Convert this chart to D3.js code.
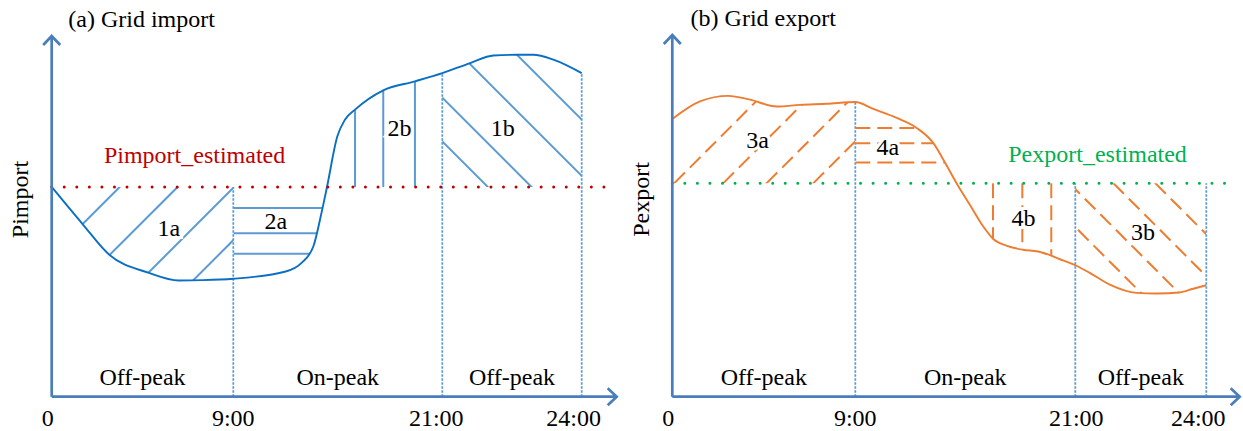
<!DOCTYPE html>
<html>
<head>
<meta charset="utf-8">
<script src="https://cdn.jsdelivr.net/npm/d3@7"></script>
<style>
  html, body { margin: 0; padding: 0; background: #fff; }
  svg { display: block; }
  text { font-family: "Liberation Serif", "Times New Roman", serif; font-size: 24px; fill: #000; }
</style>
</head>
<body>
<svg id="chart" width="1243" height="431"></svg>
<script>
// ---- time axis (hours) ----
const hourTicks = [0, 9, 21, 24];
const hourTickLabels = ["0", "9:00", "21:00", "24:00"];
const periodLabels = ["Off-peak", "On-peak", "Off-peak"];

// ---- (a) grid import profile ----
const importHours = [0, 1.55, 2.84, 4.82, 6.29, 7.5, 9, 12.01, 12.92, 13.6, 14.06, 14.38, 14.97, 15.41,
  15.99, 17.61, 19.43, 21, 21.6, 22.1, 22.6, 22.96, 23.39, 24];
const importValues = [6.08, 4.99, 4.12, 3.59, 3.37, 3.38, 3.42, 3.63, 3.88, 4.36, 5.32, 6.08, 7.54, 8.03,
  8.32, 8.88, 9.14, 9.38, 9.67, 9.89, 9.91, 9.91, 9.77, 9.38];
const importEstimated = 6.08;

// ---- (b) grid export profile ----
const exportHours = [0, 1.36, 2.75, 3.82, 5.14, 6.28, 7.6, 9, 9.98, 11.26, 12.35, 13.26, 13.89, 14.62,
  15.24, 15.97, 16.51, 17.24, 18.15, 18.97, 19.69, 20.33, 21, 21.33, 21.79, 22.4, 22.86, 23.39, 23.7, 24];
const exportValues = [8.05, 8.56, 8.72, 8.61, 8.41, 8.46, 8.49, 8.54, 8.34, 8.08, 7.79, 7.35, 6.79, 6.10,
  5.57, 4.94, 4.58, 4.38, 4.26, 4.21, 4.09, 3.95, 3.81, 3.59, 3.25, 3.01, 2.99, 3.02, 3.13, 3.23];
const exportEstimated = 6.19;

// ---- hatched deviation areas: hatch lines given in data units ----
// rising/falling: hour where the 45° line meets the estimate; horizontal: value; vertical: hour
const importRegions = [
  { name: "1a", from: 0, to: 9, hatch: "rising", at: [3.37, 6.24, 9.05, 12.06], labelAt: [5.8, 4.65] },
  { name: "2a", from: 9, to: 21, hatch: "horizontal", at: [5.47, 4.74, 4.14], labelAt: [11.44, 4.85] },
  { name: "2b", from: 9, to: 21, hatch: "vertical", at: [15.99, 17.61, 19.43], labelAt: [18.54, 7.57] },
  { name: "1b", from: 21, to: 24, hatch: "falling", at: [21.98, 22.92, 24.24, 25.45], labelAt: [22.3, 7.57] }
];
const exportRegions = [
  { name: "3a", from: 0, to: 9, hatch: "rising", at: [0.1, 2.51, 4.64, 6.94], labelAt: [4.19, 7.21] },
  { name: "4a", from: 9, to: 21, hatch: "horizontal", at: [7.79, 7.35, 6.79], labelAt: [10.78, 7.01] },
  { name: "4b", from: 9, to: 21, hatch: "vertical", at: [16.51, 18.11, 19.69], labelAt: [18.18, 4.96] },
  { name: "3b", from: 21, to: 24, hatch: "falling", at: [18.6, 20.67, 21.87, 22.83], labelAt: [22.55, 4.55] }
];

const svg = d3.select("#chart");
const defs = svg.append("defs");

const panels = [
  {
    id: "imp", title: "(a) Grid import", yLabel: "Pimport",
    hours: importHours, values: importValues, est: importEstimated,
    estLabel: "Pimport_estimated", estLabelAt: [7.08, 6.77], estColor: "#c00000",
    regions: importRegions,
    curveColor: "#0a6fc2", hatchColor: "#5b9bd5", hatchDash: null,
    xRange: [51.7, 233.3, 442.3, 581.7], axisEndX: 616.7, axisTopY: 36,
    titleX: 68.3, titleY: 26.7, tickDx: [-4, 0, -6, -8]
  },
  {
    id: "exp", title: "(b) Grid export", yLabel: "Pexport",
    hours: exportHours, values: exportValues, est: exportEstimated,
    estLabel: "Pexport_estimated", estLabelAt: [21.51, 6.79], estColor: "#00b050",
    regions: exportRegions,
    curveColor: "#ed7d31", hatchColor: "#ed7d31", hatchDash: "15,7",
    xRange: [672.3, 855.3, 1075.3, 1206.3], axisEndX: 1239.7, axisTopY: 35,
    titleX: 690.6, titleY: 25.5, tickDx: [-4, 0, 1, -8]
  }
];

const axisColor = "#4a7ebb";
const guideColor = "#5b9bd5";

panels.forEach(drawPanel);

function drawPanel(p) {
  const g = svg.append("g").attr("class", "panel-" + p.id);
  const x = d3.scaleLinear().domain(hourTicks).range(p.xRange);
  const y = d3.scaleLinear().domain([0, 10]).range([396.7, 51.7]);
  const pts = p.hours.map((h, i) => ({ h, v: p.values[i] }));
  const yEst = y(p.est);
  const valueAt = h => p.values[p.hours.indexOf(h)];

  const line = d3.line().curve(d3.curveMonotoneX).x(d => x(d.h)).y(d => y(d.v));
  const area = d3.area().curve(d3.curveMonotoneX).x(d => x(d.h)).y0(yEst).y1(d => y(d.v));

  // area enclosed by the profile and the estimate
  defs.append("clipPath").attr("id", p.id + "-gap")
    .append("path").attr("d", area(pts));

  // period separators (dotted), from the axis up to the higher of profile / estimate
  g.append("g").selectAll("line")
    .data(hourTicks.slice(1))
    .join("line")
    .attr("x1", d => x(d)).attr("x2", d => x(d))
    .attr("y1", y(0))
    .attr("y2", d => y(Math.max(valueAt(d), p.est)))
    .attr("stroke", guideColor).attr("stroke-width", 1.8)
    .attr("stroke-dasharray", "2.5,1.5");

  // hatching of each deviation area
  p.regions.forEach((r, ri) => {
    const rectId = p.id + "-span-" + ri;
    defs.append("clipPath").attr("id", rectId)
      .append("rect")
      .attr("x", x(r.from)).attr("y", 0)
      .attr("width", x(r.to) - x(r.from)).attr("height", 431);

    const hg = g.append("g").attr("clip-path", `url(#${rectId})`)
      .append("g").attr("clip-path", `url(#${p.id}-gap)`);

    const L = 400;
    let segs = [];
    if (r.hatch === "rising" || r.hatch === "falling") {
      const s = r.hatch === "rising" ? -1 : 1;
      r.at.forEach(h => {
        const xc = x(h);
        segs.push([xc, yEst, xc + L, yEst + s * L]);
        segs.push([xc, yEst, xc - L, yEst - s * L]);
      });
    } else if (r.hatch === "horizontal") {
      r.at.forEach(v => segs.push([x(r.from), y(v), x(r.to), y(v)]));
    } else {
      r.at.forEach(h => {
        segs.push([x(h), yEst, x(h), y(0)]);
        segs.push([x(h), yEst, x(h), y(10)]);
      });
    }
    hg.selectAll("line").data(segs).join("line")
      .attr("x1", d => d[0]).attr("y1", d => d[1])
      .attr("x2", d => d[2]).attr("y2", d => d[3])
      .attr("stroke", p.hatchColor).attr("stroke-width", 2)
      .attr("stroke-dasharray", p.hatchDash);
  });

  // profile
  g.append("path").datum(pts)
    .attr("d", line)
    .attr("fill", "none")
    .attr("stroke", p.curveColor).attr("stroke-width", 1.9);

  // estimated level (dotted)
  g.append("line")
    .attr("x1", x(0)).attr("x2", x(24.5))
    .attr("y1", yEst).attr("y2", yEst)
    .attr("stroke", p.estColor).attr("stroke-width", 3)
    .attr("stroke-linecap", "round")
    .attr("stroke-dasharray", "0,12.55");

  // axes with open arrowheads
  const ax = g.append("g").attr("fill", "none").attr("stroke", axisColor)
    .attr("stroke-width", 2.7);
  ax.append("path").attr("d", `M${x(0)},${y(0)}V${p.axisTopY}M${x(0) - 8.5},${p.axisTopY + 9}L${x(0)},${p.axisTopY}L${x(0) + 8.5},${p.axisTopY + 9}`);
  ax.append("path").attr("d", `M${x(0)},${y(0)}H${p.axisEndX}M${p.axisEndX - 9},${y(0) - 8.5}L${p.axisEndX},${y(0)}L${p.axisEndX - 9},${y(0) + 8.5}`);

  // hour tick labels
  g.append("g").selectAll("text")
    .data(hourTicks)
    .join("text")
    .attr("x", (d, i) => x(d) + p.tickDx[i])
    .attr("y", 426)
    .attr("text-anchor", "middle")
    .text((d, i) => hourTickLabels[i]);

  // tariff periods
  g.append("g").selectAll("text")
    .data(periodLabels)
    .join("text")
    .attr("x", (d, i) => (x(hourTicks[i]) + x(hourTicks[i + 1])) / 2)
    .attr("y", 385)
    .attr("text-anchor", "middle")
    .text(d => d);

  // estimate label
  g.append("text")
    .attr("x", x(p.estLabelAt[0])).attr("y", y(p.estLabelAt[1]))
    .attr("text-anchor", "middle")
    .style("fill", p.estColor)
    .text(p.estLabel);

  // area labels with a white halo
  g.append("g").selectAll("text")
    .data(p.regions)
    .join("text")
    .attr("x", d => x(d.labelAt[0])).attr("y", d => y(d.labelAt[1]))
    .attr("text-anchor", "middle")
    .attr("stroke", "#fff").attr("stroke-width", 6)
    .attr("paint-order", "stroke")
    .text(d => d.name);

  // y label and title
  g.append("text")
    .attr("transform", `translate(${x(0) - 23.5},199.5) rotate(-90)`)
    .attr("text-anchor", "middle")
    .text(p.yLabel);

  g.append("text")
    .attr("x", p.titleX).attr("y", p.titleY)
    .text(p.title);
}
</script>
</body>
</html>
